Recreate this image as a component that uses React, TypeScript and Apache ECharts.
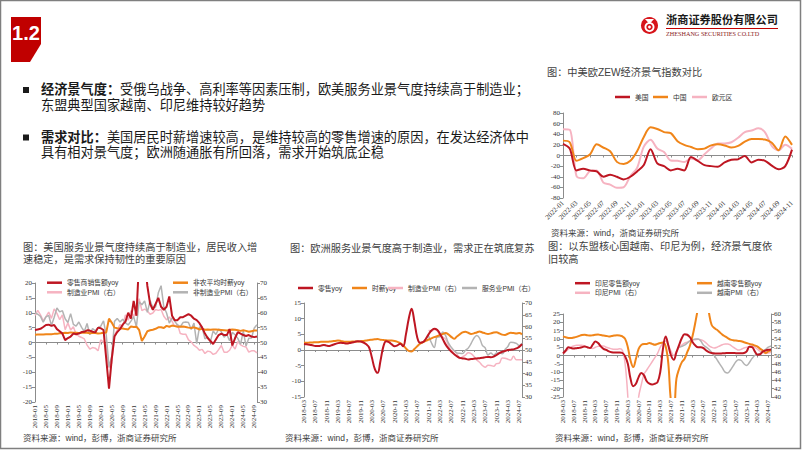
import React, { useEffect, useRef } from "react";
import * as echarts from "echarts";

function months(startY: number, startM: number, count: number): string[] {
  const out: string[] = [];
  let y = startY;
  let m = startM;
  for (let i = 0; i < count; i++) {
    out.push(`${y}-${String(m).padStart(2, "0")}`);
    m++;
    if (m > 12) {
      m = 1;
      y++;
    }
  }
  return out;
}

// ---------- ZEW (2022-01 .. 2024-11)
const zewMonths = months(2022, 1, 35);
const zewUS = [22, 13, -28, -25, -28, -30, -40, -36, -40, -45, -40, -30, -18, 12, -15, -20, -28, -25, -28, -3, -10, -18, -20, -21, -13, -8, -7, -1, -13, -8, -10, -19, -26, -20, 11];
const zewCN = [28, 25, -10, -5, 2, 21, 15, 8, -12, -16, -10, 8, 35, 53, 50, 44, 42, 27, 20, 16, 12, 13, 19, 21, 19, 15, 18, 26, 31, 31, 30, 24, 10, 36, 20];
const zewEA = [49.4, 48.6, -38.7, -43.0, -29.5, -28.0, -51.1, -54.9, -60.7, -59.7, -38.7, -23.3, 16.7, 29.7, 13.0, 6.4, -9.4, -10.0, -12.2, -5.5, -8.9, 2.3, 13.8, 22.7, 22.7, 25.0, 33.5, 43.9, 47.0, 51.3, 43.7, 17.9, 9.3, 20.1, 12.5];

// ---------- US (2018-01 .. 2024-10)
const usMonths = months(2018, 1, 82);
const usRetail = [
  4.2, 4.4, 4.6, 5.2, 5.9, 6.0, 5.6, 5.9, 4.5, 3.8, 3.0, 0.8,
  1.5, 2.0, 3.0, 2.8, 3.0, 3.5, 3.6, 4.1, 4.0, 3.6, 3.4, 5.0,
  4.8, 4.2, -5.5, -15.5, -5.5, 2.0, 3.5, 4.5, 6.0, 7.0, 10.0, 8.0,
  14.0, 9.0, 28.0, 50.0, 28.0, 19.0, 13.0, 11.0, 13.0, 15.0, 12.0, 11.0,
  12.0, 15.5, 9.0, 7.5, 7.5, 8.5, 8.5, 9.0, 9.5, 9.0, 8.0, 7.5,
  6.5, 5.0, 3.0, 1.5, 0.5, -0.5, 1.0, 2.5, 3.0, 2.5, 2.5, 4.5,
  -1.0, 1.5, 3.5, 3.0, 2.5, 2.2, 2.5, 2.0, 1.8, 2.0
];
const usWage = [
  2.6, 2.7, 2.7, 2.7, 2.8, 2.8, 2.8, 2.9, 2.9, 3.1, 3.1, 3.3,
  3.2, 3.4, 3.3, 3.3, 3.2, 3.3, 3.3, 3.3, 3.1, 3.2, 3.2, 3.0,
  3.1, 3.3, 3.4, 8.0, 6.7, 5.0, 4.8, 4.7, 4.7, 4.5, 4.4, 5.4,
  5.2, 5.3, 4.2, 0.5, 2.0, 3.8, 4.1, 4.3, 4.6, 5.1, 5.1, 4.9,
  5.6, 5.3, 5.7, 5.5, 5.3, 5.3, 5.4, 5.2, 5.0, 4.9, 5.1, 4.8,
  4.4, 4.6, 4.3, 4.4, 4.3, 4.4, 4.4, 4.3, 4.2, 4.1, 4.0, 4.3,
  4.4, 4.3, 4.1, 3.9, 4.1, 3.9, 3.6, 3.8, 4.0, 4.0
];
const usMfgPmi = [
  59.1, 60.8, 59.3, 57.3, 58.7, 60.2, 58.1, 61.3, 59.8, 57.7, 59.3, 54.3,
  56.6, 54.2, 55.3, 52.8, 52.1, 51.7, 51.2, 49.1, 47.8, 48.3, 48.1, 47.2,
  50.9, 50.1, 49.1, 41.5, 43.1, 52.6, 54.2, 56.0, 55.4, 59.3, 57.5, 60.7,
  58.7, 60.8, 64.7, 60.7, 61.2, 60.6, 59.5, 59.9, 61.1, 60.8, 61.1, 58.8,
  57.6, 58.6, 57.1, 55.4, 56.1, 53.0, 52.8, 52.8, 50.9, 50.2, 49.0, 48.4,
  47.4, 47.7, 46.3, 47.1, 46.9, 46.0, 46.4, 47.6, 49.0, 46.7, 46.7, 47.4,
  49.1, 47.8, 50.3, 49.2, 48.7, 48.5, 46.8, 47.2, 47.2, 46.5
];
const usSvcPmi = [
  59.9, 59.5, 58.8, 56.8, 58.6, 59.1, 55.7, 58.5, 61.6, 60.3, 60.7, 58.0,
  56.7, 59.7, 56.1, 55.5, 56.9, 55.1, 53.7, 56.4, 52.6, 54.7, 53.9, 55.0,
  55.5, 57.3, 52.5, 41.8, 45.4, 57.1, 58.1, 56.9, 57.8, 56.6, 55.9, 57.2,
  58.7, 55.3, 63.7, 62.7, 64.0, 60.1, 64.1, 61.7, 61.9, 66.7, 69.1, 62.0,
  59.9, 56.5, 58.3, 57.1, 55.9, 55.3, 56.7, 56.9, 56.7, 54.4, 56.5, 49.6,
  55.2, 55.1, 51.2, 51.9, 50.3, 53.9, 52.7, 54.5, 53.6, 51.8, 52.7, 50.6,
  53.4, 52.6, 51.4, 49.4, 53.8, 48.8, 51.4, 51.5, 54.9, 56.0
];

// ---------- Europe (2018-03 .. 2024-08)
const euMonths = months(2018, 3, 78);
const euRetail = [
  1.9, 1.8, 1.7, 1.5, 1.3, 1.3, 1.4, 1.6, 1.4, 1.3, 1.6, 1.9,
  2.2, 2.3, 2.2, 2.1, 2.2, 2.4, 2.6, 2.8, 2.7, 2.4, 1.8, 0.8,
  -2.5, -6.0, -7.3, -3.5, 1.0, 2.8, 2.5, 1.8, 1.2, 1.5, 2.0, 1.2,
  5.0, 10.0, 13.2, 9.0, 4.0, 2.3, 2.5, 3.5, 5.0, 6.2, 6.8, 6.5,
  5.2, 3.5, 1.8, 0.5, -0.5, -1.3, -2.0, -2.5, -2.7, -2.8, -3.0, -2.9,
  -2.8, -2.7, -2.6, -2.5, -2.3, -2.2, -2.3, -2.1, -1.6, -1.0, -0.6, -0.3,
  0.0, 0.1, 0.2, 0.5, 1.0, 1.9
];
const euWage = [
  2.3, 2.3, 2.4, 2.4, 2.5, 2.5, 2.6, 2.6, 2.6, 2.7, 2.8, 2.9,
  3.0, 2.9, 2.7, 2.6, 2.6, 2.7, 2.7, 2.7, 2.8, 2.9, 3.0, 3.2,
  3.3, 3.4, 3.5, 3.3, 3.2, 3.1, 3.0, 3.0, 2.9, 2.6, 2.2, 1.5,
  0.5, -0.3, -0.5, 0.3, 1.2, 2.0, 2.5, 2.9, 3.3, 3.7, 4.1, 4.4,
  4.8, 5.1, 5.4, 5.0, 4.2, 3.6, 4.3, 5.0, 5.6, 5.8, 5.5, 5.1,
  5.3, 5.6, 5.9, 5.6, 5.3, 5.1, 5.3, 5.6, 5.7, 5.3, 4.9, 4.8,
  5.2, 5.5, 5.4, 5.3, 5.4, 5.0
];
const N = null;
const euMfgPmi = [
  N, N, N, N, N, N, N, N, N, N, N, N,
  N, N, N, N, N, N, N, N, N, N, N, N,
  N, N, N, N, N, N, N, N, N, N, N, N,
  N, N, N, N, N, N, N, N, 58.4, 58.0, 58.7, 58.2,
  56.5, 55.5, 54.6, 52.1, 49.8, 49.6, 48.4, 46.4, 47.1, 47.8, 48.8, 48.5,
  47.3, 45.8, 44.8, 43.4, 42.7, 43.5, 43.4, 43.1, 44.2, 44.4, 46.6, 46.5,
  46.1, 45.7, 47.3, 45.8, 45.8, 45.8
];
const euSvcPmi = [
  N, N, N, N, N, N, N, N, N, N, N, N,
  N, N, N, N, N, N, N, N, N, N, N, N,
  N, N, N, N, N, N, N, N, N, N, N, N,
  N, N, N, N, N, N, N, N, 55.9, 53.1, 51.1, 55.5,
  55.6, 57.7, 56.1, 53.0, 51.2, 49.8, 48.8, 48.6, 48.5, 49.8, 50.8, 52.7,
  55.0, 56.2, 55.1, 52.0, 50.9, 47.9, 48.7, 47.8, 48.7, 48.8, 48.4, 50.2,
  51.5, 53.3, 53.2, 52.8, 51.9, 52.9
];

// ---------- ASEAN (2018-03 .. 2024-08)
const aseanMonths = months(2018, 3, 78);
const idRetail = [
  1.2, 3.0, 5.0, 4.5, 4.2, 4.4, 4.6, 5.0, 5.4, 5.0, 4.5, 6.5,
  8.5, 7.5, 5.5, 4.0, 3.4, 2.5, 2.0, 1.8, 1.8, 1.8, 1.5, -0.5,
  -5.0, -14.0, -18.5, -17.0, -13.0, -10.5, -12.0, -15.5, -17.0, -17.5, -17.0, -16.0,
  -10.0, 4.0, 11.5, 6.0, 0.0, -2.5, 2.0, 6.4, 10.5, 12.8, 12.5, 11.0,
  8.0, 6.0, 5.0, 5.0, 4.5, 3.0, 2.0, 1.5, 1.3, 1.2, 1.2, 1.3,
  1.4, 1.5, 1.5, 1.5, 1.4, 1.3, 1.3, 1.5, 2.5, 5.2, 5.0, 2.5,
  0.5, 0.8, 2.4, 3.0, 3.4, 3.6
];
const vnRetail = [
  11.5, 11.0, 10.6, 10.5, 10.8, 11.2, 11.8, 12.3, 12.5, 12.2, 12.0, 12.2,
  12.5, 12.6, 12.3, 12.0, 11.8, 11.5, 11.7, 12.0, 12.2, 12.0, 11.5, 10.0,
  5.0, -3.0, -7.0, -2.0, 4.0, 6.4, 7.0, 7.0, 7.5, 7.0, 6.5, 7.0,
  7.5, 7.8, 5.5, -5.0, -28.0, -32.0, -14.0, -8.0, -4.0, -2.0, 2.0, 6.0,
  12.0, 20.0, 29.0, 40.0, 45.0, 36.0, 26.0, 18.5, 16.5, 15.5, 14.0, 12.6,
  11.5, 10.5, 9.6, 9.2, 9.0, 8.8, 8.6, 8.0, 7.5, 7.0, 6.6, 6.0,
  5.4, 4.0, 3.0, 1.5, 2.5, 3.0
];
const idPmi = [
  50.5, 51.0, 51.5, 52.0, 52.3, 52.5, 52.5, 52.5, 52.3, 52.0, 51.8, 51.7,
  52.0, 52.2, 52.3, 52.3, 52.0, 51.8, 51.6, 51.5, 51.5, 51.6, 51.2, 48.0,
  40.0, 28.0, 28.0, 33.0, 40.0, 43.0, 45.5, 46.5, 47.5, 48.5, 49.5, 50.5,
  52.0, 53.0, 53.5, 52.5, 51.0, 50.0, 51.0, 52.0, 52.5, 53.0, 53.2, 53.5,
  53.7, 53.8, 53.9, 53.8, 53.5, 53.0, 52.4, 52.0, 51.8, 52.0, 52.3, 52.6,
  52.8, 52.8, 52.5, 52.0, 51.6, 51.3, 51.5, 51.8, 52.0, 52.2, 52.3, 52.0,
  51.5, 51.0, 50.8, 50.5, 50.6, 50.8
];
const vnPmi = [
  N, N, N, N, N, N, N, N, N, N, N, N,
  N, N, N, N, N, N, N, N, N, N, N, N,
  N, N, N, N, N, N, N, N, N, N, N, N,
  N, N, N, N, N, N, N, 52.0, 52.2, 52.5, 53.0, 53.5,
  53.8, 54.0, 54.0, 53.5, 52.5, 52.0, 51.5, 50.8, 50.0, 49.0, 48.0, 47.0,
  46.0, 45.8, 46.5, 47.5, 48.5, 49.0, 48.8, 48.0, 47.6, 48.3, 49.3, 50.0,
  50.3, 50.5, 51.0, 51.5, 52.0, 52.3
];

// ---------- texts
const bullet1 = "{b|经济景气度：}受俄乌战争、高利率等因素压制，欧美服务业景气度持续高于制造业；\n东盟典型国家越南、印尼维持较好趋势";
const bullet2 = "{b|需求对比：}美国居民时薪增速较高，是维持较高的零售增速的原因，在发达经济体中\n具有相对景气度；欧洲随通胀有所回落，需求开始筑底企稳";
const titleUS = "图：美国服务业景气度持续高于制造业，居民收入增\n速稳定，是需求保持韧性的重要原因";
const titleEU = "图：欧洲服务业景气度高于制造业，需求正在筑底复苏";
const titleAS = "图：以东盟核心国越南、印尼为例，经济景气度依\n旧较高";
const titleZEW = "图：中美欧ZEW经济景气指数对比";

const CJK = '"Liberation Sans", "Noto Sans CJK SC", sans-serif';
const SERIF = '"Liberation Serif", "DejaVu Serif", serif';
const RED = "#BE1622";
const ORANGE = "#F08519";
const PINK = "#F6B3C1";
const GRAY = "#B3B3B3";
const AX = "#8c8c8c";
const TXT = "#404040";

function catAxes(gridIndex: number, data: string[], interval: number, rotate: number, margin: number) {
  return [
    {
      type: "category", gridIndex, data, boundaryGap: false, position: "bottom",
      axisLine: { show: false, onZero: false }, axisTick: { show: false },
      axisLabel: { interval, rotate, fontSize: 7, fontFamily: SERIF, color: "#333", margin },
      splitLine: { show: false },
    },
    {
      type: "category", gridIndex, data, boundaryGap: false, position: "bottom",
      axisLine: { show: true, onZero: true, lineStyle: { color: AX, width: 1 } },
      axisTick: { show: true, interval, length: 2, lineStyle: { color: AX } },
      axisLabel: { show: false }, splitLine: { show: false },
    },
  ];
}

function valAxis(gridIndex: number, min: number, max: number, interval: number, position: string) {
  return {
    type: "value", gridIndex, min, max, interval, position,
    axisLine: { show: true, onZero: false, lineStyle: { color: AX } },
    axisTick: { show: true, length: 3, lineStyle: { color: AX } },
    axisLabel: { fontSize: 7, fontFamily: SERIF, color: "#333", margin: 3 },
    splitLine: { show: false },
  };
}

function line(name: string, data: (number | null)[], color: string, width: number, xAxisIndex: number, yAxisIndex: number, smooth: number | boolean) {
  return {
    type: "line", name, data, xAxisIndex, yAxisIndex, smooth,
    showSymbol: false, symbol: "none", connectNulls: false,
    lineStyle: { color, width }, itemStyle: { color },
  };
}

function leg(name: string, left: number, cy: number) {
  return {
    data: [name], left, top: cy - 4, padding: 0, icon: "rect", itemWidth: 15, itemHeight: 2.5, itemGap: 4,
    textStyle: { fontSize: 6.8, fontFamily: CJK, color: "#333", lineHeight: 8 },
  };
}

// multi-line text block: (x, top) with given line height
function block(x: number, top: number, text: string, fontSize: number, lineHeight: number, fill: string, extra: any = {}) {
  return {
    type: "text", x, y: top, silent: true,
    style: { text, fontSize, fontFamily: CJK, fill, align: "left", verticalAlign: "top", lineHeight, ...extra },
  };
}

const boldRich = { b: { fontWeight: "bold", fontSize: 13.2, fontFamily: CJK, fill: "#1a1a1a", lineHeight: 15.5 } };

export default function App() {
  const ref = useRef<HTMLDivElement>(null);
  useEffect(() => {
    if (!ref.current) return;
    const chart = echarts.init(ref.current, undefined, { renderer: "svg" });
    const option: any = {
      animation: false,
      backgroundColor: "#ffffff",
      grid: [
        { left: 563, top: 113, width: 229, height: 85 },
        { left: 35, top: 283, width: 222, height: 119 },
        { left: 304, top: 303, width: 218, height: 94 },
        { left: 563, top: 314, width: 208, height: 83 },
      ],
      xAxis: [
        ...catAxes(0, zewMonths, 1, 45, 4),
        ...catAxes(1, usMonths, 3, 90, 3),
        ...catAxes(2, euMonths, 3, 90, 3),
        ...catAxes(3, aseanMonths, 3, 90, 3),
      ],
      yAxis: [
        valAxis(0, -80, 80, 20, "left"),
        valAxis(1, -20, 20, 5, "left"),
        valAxis(1, 30, 70, 5, "right"),
        valAxis(2, -15, 15, 5, "left"),
        valAxis(2, 30, 70, 5, "right"),
        valAxis(3, -25, 25, 5, "left"),
        valAxis(3, 40, 60, 2, "right"),
      ],
      legend: [
        leg("美国", 615, 97),
        leg("中国", 653, 97),
        leg("欧元区", 692, 97),
        leg("零售商销售额yoy", 47, 282.7),
        leg("非农平均时薪yoy", 173, 282.7),
        leg("制造业PMI（右）", 47, 292.3),
        leg("非制造业PMI（右）", 173, 292.3),
        leg("零售yoy", 298, 288),
        leg("时薪yoy", 352, 288),
        leg("制造业PMI（右） ", 388, 288),
        leg("服务业PMI（右）", 462, 288),
        leg("印尼零售额yoy", 575, 283.2),
        leg("越南零售额yoy", 697, 283.2),
        leg("印尼PMI（右）", 575, 292.8),
        leg("越南PMI（右）", 697, 292.8),
      ],
      series: [
        line("欧元区", zewEA, PINK, 2, 0, 0, 0.3),
        line("中国", zewCN, ORANGE, 2, 0, 0, 0.3),
        line("美国", zewUS, RED, 2, 0, 0, 0.3),

        line("制造业PMI（右）", usMfgPmi, PINK, 1.5, 2, 2, false),
        line("非制造业PMI（右）", usSvcPmi, GRAY, 1.5, 2, 2, false),
        line("非农平均时薪yoy", usWage, ORANGE, 2, 2, 1, false),
        line("零售商销售额yoy", usRetail, RED, 2, 2, 1, false),

        line("制造业PMI（右） ", euMfgPmi, PINK, 1.5, 4, 4, 0.4),
        line("服务业PMI（右）", euSvcPmi, GRAY, 1.5, 4, 4, 0.4),
        line("时薪yoy", euWage, ORANGE, 2, 4, 3, 0.4),
        line("零售yoy", euRetail, RED, 2, 4, 3, 0.4),

        line("印尼PMI（右）", idPmi, PINK, 1.5, 6, 6, 0.4),
        line("越南PMI（右）", vnPmi, GRAY, 1.5, 6, 6, 0.4),
        line("越南零售额yoy", vnRetail, ORANGE, 2, 6, 5, 0.4),
        line("印尼零售额yoy", idRetail, RED, 2, 6, 5, 0.4),
      ],
      graphic: [
        { type: "rect", silent: true, shape: { x: 0.5, y: 0.5, width: 800, height: 448 }, style: { fill: "none", stroke: "#7f7f7f", lineWidth: 1.5 } },
        // section badge
        { type: "polygon", silent: true, shape: { points: [[11, 17], [41, 17], [41, 44], [30, 62], [11, 62]] }, style: { fill: "#C00000" } },
        { type: "text", silent: true, x: 26, y: 33, style: { text: "1.2", fontSize: 20, fontWeight: "bold", fontFamily: '"Liberation Sans", Arial, sans-serif', fill: "#ffffff", align: "center", verticalAlign: "middle" } },
        // logo
        { type: "circle", silent: true, shape: { cx: 649.5, cy: 25.5, r: 8.5 }, style: { fill: "#D7141A" } },
        { type: "ring", silent: true, shape: { cx: 649.5, cy: 27, r: 5, r0: 3.2 }, style: { fill: "#ffffff" } },
        { type: "polygon", silent: true, shape: { points: [[645, 19], [654, 19], [649.5, 24]] }, style: { fill: "#ffffff" } },
        { type: "circle", silent: true, shape: { cx: 649.5, cy: 27, r: 1.4 }, style: { fill: "#ffffff" } },
        block(666, 14, "浙商证券股份有限公司", 11.2, 12, "#1a1a1a", { fontWeight: "bold" }),
        { type: "line", silent: true, shape: { x1: 666, y1: 28.5, x2: 778, y2: 28.5 }, style: { stroke: "#C00000", lineWidth: 1 } },
        block(666, 30, "ZHESHANG SECURITIES CO.LTD", 6.2, 7, "#8a1a1a", { fontFamily: SERIF }),
        // bullets
        { type: "rect", silent: true, shape: { x: 23, y: 87, width: 6, height: 6 }, style: { fill: "#1a1a1a" } },
        { type: "rect", silent: true, shape: { x: 23, y: 134.5, width: 6, height: 6 }, style: { fill: "#1a1a1a" } },
        block(41, 82, bullet1, 13.2, 15.5, "#1a1a1a", { rich: boldRich }),
        block(41, 129.3, bullet2, 13.2, 15.5, "#1a1a1a", { rich: boldRich }),
        // chart titles
        block(547, 66, titleZEW, 10.2, 12, TXT),
        block(23, 241.1, titleUS, 10.2, 12.4, TXT),
        block(290, 242, titleEU, 10.2, 12, TXT),
        block(548, 240.8, titleAS, 10.2, 12.4, TXT),
        // sources
        block(551, 228, "资料来源：wind，浙商证券研究所", 8.5, 10, TXT),
        block(23, 433, "资料来源：wind，彭博，浙商证券研究所", 8.5, 10, TXT),
        block(285, 433, "资料来源：wind，彭博，浙商证券研究所", 8.5, 10, TXT),
        block(555, 433, "资料来源：wind，彭博，浙商证券研究所", 8.5, 10, TXT),
      ],
    };
    chart.setOption(option);
    return () => chart.dispose();
  }, []);
  return (
    <div
      ref={ref}
      style={{ position: "absolute", left: 0, top: 0, width: 802, height: 451, background: "#fff" }}
    />
  );
}
